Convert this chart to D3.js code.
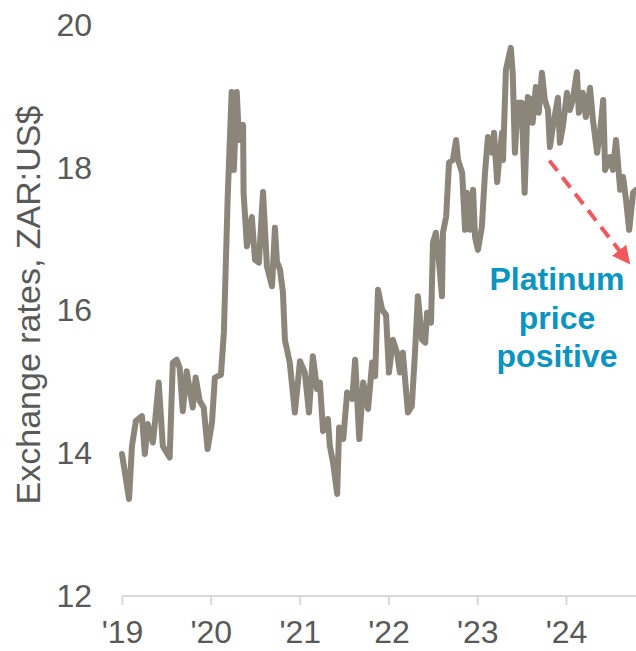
<!DOCTYPE html>
<html>
<head>
<meta charset="utf-8">
<script src="https://cdn.jsdelivr.net/npm/d3@7"></script>
<style>
  html, body { margin: 0; padding: 0; background: #ffffff; }
  svg { display: block; }
</style>
</head>
<body>
<div id="chart"></div>
<script>
// ---- Data ----
const dates = [
  "2019-01-01","2019-01-30","2019-02-11","2019-02-27","2019-03-24","2019-04-05","2019-04-17","2019-05-08",
  "2019-05-16","2019-06-01","2019-06-18","2019-07-16","2019-07-29","2019-08-14","2019-08-26","2019-09-08",
  "2019-09-24","2019-10-19","2019-10-31","2019-11-17","2019-12-03","2019-12-19","2020-01-06","2020-01-18",
  "2020-01-30","2020-02-12","2020-02-24","2020-03-11","2020-03-27","2020-04-05","2020-04-17","2020-04-26",
  "2020-05-13","2020-05-15","2020-05-29","2020-06-18","2020-07-01","2020-07-17","2020-08-03","2020-08-19",
  "2020-09-09","2020-09-21","2020-09-29","2020-10-12","2020-10-24","2020-11-01","2020-11-21","2020-12-12",
  "2021-01-02","2021-01-22","2021-02-08","2021-02-24","2021-03-13","2021-03-25","2021-04-07","2021-04-27",
  "2021-05-05","2021-05-18","2021-06-04","2021-06-12","2021-06-29","2021-07-15","2021-08-05","2021-08-17",
  "2021-09-03","2021-09-19","2021-10-09","2021-10-26","2021-11-07","2021-11-19","2021-12-06","2021-12-22",
  "2022-01-03","2022-01-19","2022-02-05","2022-02-17","2022-03-01","2022-03-22","2022-04-07","2022-04-20",
  "2022-05-02","2022-05-19","2022-06-01","2022-06-09","2022-06-25","2022-07-03","2022-07-15","2022-07-28",
  "2022-08-09","2022-08-13","2022-08-26","2022-09-07","2022-09-23","2022-10-06","2022-10-14","2022-10-31",
  "2022-11-12","2022-11-20","2022-12-03","2022-12-15","2022-12-23","2023-01-04","2023-01-20","2023-02-02",
  "2023-02-14","2023-03-03","2023-03-11","2023-03-24","2023-04-01","2023-04-13","2023-04-17","2023-04-29",
  "2023-05-19","2023-05-27","2023-06-05","2023-06-17","2023-07-03","2023-07-15","2023-07-28","2023-08-13",
  "2023-08-17","2023-08-30","2023-09-11","2023-09-24","2023-10-06","2023-10-19","2023-10-27","2023-11-08",
  "2023-11-29","2023-12-07","2023-12-19","2024-01-05","2024-01-17","2024-01-29","2024-02-15","2024-02-23",
  "2024-03-10","2024-03-23","2024-04-09","2024-04-21","2024-05-08","2024-05-20","2024-06-02","2024-06-10",
  "2024-06-30","2024-07-12","2024-07-25","2024-08-11","2024-08-23","2024-09-04","2024-09-17","2024-10-03",
  "2024-10-15"
];
const zarUsd = [
  13.99,13.36,14.10,14.45,14.52,13.99,14.41,14.15,
  14.41,14.99,14.10,13.94,15.27,15.31,15.20,14.59,
  15.15,14.64,15.06,14.73,14.64,14.06,14.43,15.06,
  15.08,15.10,15.69,17.62,19.06,17.97,19.06,18.39,
  18.60,17.65,16.90,17.31,16.71,16.67,17.66,16.62,
  16.34,17.16,16.69,16.57,16.25,15.59,15.27,14.57,
  15.29,15.13,14.57,15.36,14.90,14.99,14.31,14.48,
  14.10,13.87,13.43,14.36,14.20,14.85,14.76,15.31,
  14.20,14.99,14.62,15.27,15.08,16.29,16.01,15.94,
  15.13,15.59,15.41,15.13,15.41,14.57,14.66,15.41,
  16.20,15.59,15.55,15.97,15.83,16.95,17.09,16.67,
  16.20,17.09,17.31,18.07,18.11,18.39,18.11,17.93,
  17.13,17.65,17.13,17.69,17.03,16.85,17.17,17.93,
  18.43,18.21,18.49,17.80,18.11,18.49,18.11,19.37,
  19.68,19.33,18.21,18.91,18.91,17.65,18.99,18.95,
  18.63,19.13,18.77,19.33,18.95,18.81,18.29,18.57,
  18.98,18.35,18.57,19.05,18.81,18.95,19.34,18.77,
  19.05,18.71,19.12,18.67,18.21,18.49,18.95,17.97,
  18.15,17.97,18.39,17.69,17.87,17.55,17.13,17.65,
  17.69
];
const yTicks = [12, 14, 16, 18, 20];
const xTickDates = ["2019-01-01","2020-01-01","2021-01-01","2022-01-01","2023-01-01","2024-01-01"];
const xTickLabels = ["'19","'20","'21","'22","'23","'24"];
const yTitle = "Exchange rates, ZAR:US$";
const annotationLines = ["Platinum", "price", "positive"];
const arrowFrom = ["2023-10-25", 18.1];
const arrowTo = ["2024-09-20", 16.65];

// ---- Chart ----
const W = 636, H = 651;
const parse = d3.utcParse("%Y-%m-%d");
const data = dates.map((d, i) => ({ date: parse(d), value: zarUsd[i] }));

const svg = d3.select("#chart").append("svg")
  .attr("width", W).attr("height", H)
  .style("font-family", "'Liberation Sans', Arial, sans-serif");

const x = d3.scaleUtc()
  .domain([parse("2019-01-01"), parse("2024-10-15")])
  .range([122, 636]);
const y = d3.scaleLinear().domain([12, 20]).range([596, 25]);

// X axis
const xAxis = d3.axisBottom(x)
  .tickValues(xTickDates.map(parse))
  .tickFormat((d, i) => xTickLabels[i])
  .tickSize(9)
  .tickPadding(15)
  .tickSizeOuter(0);
const gx = svg.append("g").attr("transform", "translate(0,596)").call(xAxis);
gx.select(".domain").attr("stroke", "#d9d9d9").attr("stroke-width", 2).attr("d", "M122,0H636");
gx.selectAll(".tick line").attr("stroke", "#d9d9d9").attr("stroke-width", 2);
gx.selectAll(".tick text")
  .attr("fill", "#595959").style("font-size", "32px")
  .attr("dy", "0.71em");

// Y axis (labels only)
const yAxis = d3.axisLeft(y).tickValues(yTicks).tickSize(0).tickPadding(0);
const gy = svg.append("g").attr("transform", "translate(92,0)").call(yAxis);
gy.select(".domain").remove();
gy.selectAll(".tick text").attr("fill", "#595959").style("font-size", "32px").attr("x", 0);

// Y title
svg.append("text")
  .attr("transform", "translate(40,305) rotate(-90)")
  .attr("text-anchor", "middle")
  .attr("fill", "#595959")
  .style("font-size", "34px")
  .text(yTitle);

// Line
const line = d3.line().x(d => x(d.date)).y(d => y(d.value)).curve(d3.curveLinear);
svg.append("path")
  .datum(data)
  .attr("fill", "none")
  .attr("stroke", "#8b857a")
  .attr("stroke-width", 6)
  .attr("stroke-linejoin", "round")
  .attr("stroke-linecap", "round")
  .attr("d", line);

// Dashed arrow
const defs = svg.append("defs");
defs.append("marker")
  .attr("id", "arrowhead")
  .attr("viewBox", "0 0 10 10")
  .attr("refX", 2).attr("refY", 5)
  .attr("markerWidth", 4.5).attr("markerHeight", 4.5)
  .attr("markerUnits", "strokeWidth")
  .attr("orient", "auto")
  .append("path").attr("d", "M0,0L10,5L0,10Z").attr("fill", "#f0595b");

const ax1 = x(parse(arrowFrom[0])), ay1 = y(arrowFrom[1]);
const ax2 = x(parse(arrowTo[0])), ay2 = y(arrowTo[1]);
const ang = Math.atan2(ay2 - ay1, ax2 - ax1);
const headLen = 14;
svg.append("line")
  .attr("x1", ax1).attr("y1", ay1)
  .attr("x2", ax2 - Math.cos(ang) * headLen).attr("y2", ay2 - Math.sin(ang) * headLen)
  .attr("stroke", "#f0595b")
  .attr("stroke-width", 4)
  .attr("stroke-dasharray", "13,8")
  .attr("marker-end", "url(#arrowhead)");

// Annotation text
const ann = svg.append("text")
  .attr("text-anchor", "middle")
  .attr("fill", "#0a94c2")
  .style("font-size", "32px")
  .style("font-weight", "bold");
annotationLines.forEach((t, i) => {
  ann.append("tspan").attr("x", 557).attr("y", 290 + i * 38.5).text(t);
});
</script>
</body>
</html>
